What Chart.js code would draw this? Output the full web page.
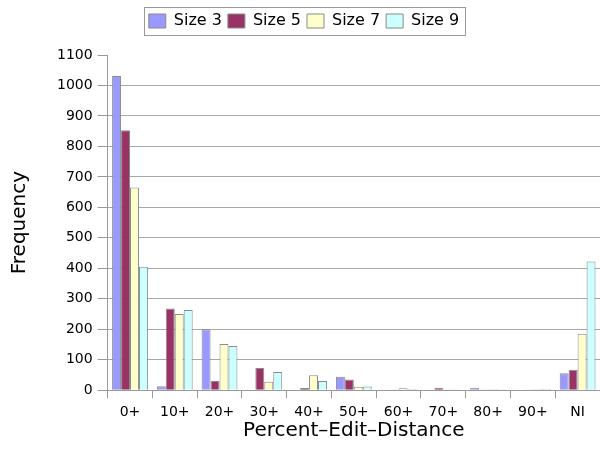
<!DOCTYPE html>
<html>
<head>
<meta charset="utf-8">
<script src="https://cdn.jsdelivr.net/npm/chart.js@4"></script>
<style>
  html, body { margin: 0; padding: 0; background: #fff; }
  #wrap { width: 600px; height: 453px; }
</style>
</head>
<body>
<div id="wrap"><canvas id="chart"></canvas></div>
<script>
// categories and series
const categories = ['0+', '10+', '20+', '30+', '40+', '50+', '60+', '70+', '80+', '90+', 'NI'];
const size3 = [1031, 13, 200, 0, 1, 44, 0, 0, 8, 0, 56];
const size5 = [853, 268, 30, 73, 7, 35, 2, 8, 2, 2, 67];
const size7 = [665, 250, 152, 28, 49, 11, 6, 2, 3, 3, 185];
const size9 = [405, 263, 145, 60, 30, 12, 4, 2, 2, 4, 422];
const seriesNames = ['Size 3', 'Size 5', 'Size 7', 'Size 9'];
const yTicks = [0, 100, 200, 300, 400, 500, 600, 700, 800, 900, 1000, 1100];

const colors = ['#9999ff', '#993366', '#ffffcc', '#ccffff'];
const font = 'DejaVu Sans';

// box around the legend, like the old spreadsheet chart
const legendBox = {
    id: 'legendBox',
    beforeInit(chart) {
        // leave some room between the legend and the plot
        const origFit = chart.legend.fit;
        chart.legend.fit = function () {
            origFit.bind(chart.legend)();
            this.height += 16;
        };
    },
    afterDraw(chart) {
        const boxes = chart.legend.legendHitBoxes;
        if (!boxes || !boxes.length) return;
        let l = Infinity, r = -Infinity, t = Infinity, b = -Infinity;
        boxes.forEach(h => {
            l = Math.min(l, h.left);
            r = Math.max(r, h.left + h.width);
            t = Math.min(t, h.top);
            b = Math.max(b, h.top + h.height);
        });
        const ctx = chart.ctx;
        ctx.save();
        ctx.strokeStyle = '#999999';
        ctx.lineWidth = 1;
        ctx.strokeRect(Math.round(l - 5) + 0.5, Math.round(t - 6) + 0.5, Math.round(r - l + 11), Math.round(b - t + 12));
        ctx.restore();
    }
};

const datasets = [size3, size5, size7, size9].map((d, i) => ({
    label: seriesNames[i],
    data: d,
    backgroundColor: colors[i],
    borderColor: '#8a8a8a',
    borderWidth: 1,
    categoryPercentage: 0.8,
    barPercentage: 1.0
}));

const config = {
    type: 'bar',
    data: {
        labels: categories,
        datasets: datasets
    },
    plugins: [legendBox],
    options: {
        responsive: false,
        animation: false,
        layout: {
            padding: { top: 7, left: 8, right: 0, bottom: 0 }
        },
        plugins: {
            legend: {
                position: 'top',
                labels: {
                    font: { family: font, size: 16 },
                    color: '#000',
                    boxWidth: 17,
                    boxHeight: 14,
                    padding: 6
                }
            },
            tooltip: { enabled: false }
        },
        scales: {
            x: {
                grid: {
                    drawOnChartArea: false,
                    drawTicks: true,
                    tickLength: 8,
                    color: '#999999'
                },
                border: { color: '#999999' },
                ticks: {
                    font: { family: font, size: 14 },
                    color: '#000',
                    padding: 6
                },
                title: {
                    display: true,
                    text: 'Percent–Edit–Distance',
                    font: { family: font, size: 20, lineHeight: 1 },
                    color: '#000',
                    padding: { top: -6, bottom: 12 }
                }
            },
            y: {
                min: 0,
                max: 1100,
                afterBuildTicks: axis => {
                    axis.ticks = yTicks.map(v => ({ value: v }));
                },
                grid: {
                    color: ctx => (ctx.tick && ctx.tick.value === 1100) ? 'rgba(0,0,0,0)' : '#a8a8a8',
                    tickColor: '#999999',
                    tickLength: 10,
                    lineWidth: 1
                },
                border: { color: '#999999' },
                ticks: {
                    font: { family: font, size: 14 },
                    color: '#000',
                    padding: 5,
                    callback: v => String(v)
                },
                title: {
                    display: true,
                    text: 'Frequency',
                    font: { family: font, size: 20 },
                    color: '#000',
                    padding: { top: 0, bottom: 20 }
                }
            }
        }
    }
};

window.onload = () => {
    const canvas = document.getElementById('chart');
    canvas.width = 600;
    canvas.height = 453;
    new Chart(canvas.getContext('2d'), config);
};
</script>
</body>
</html>
